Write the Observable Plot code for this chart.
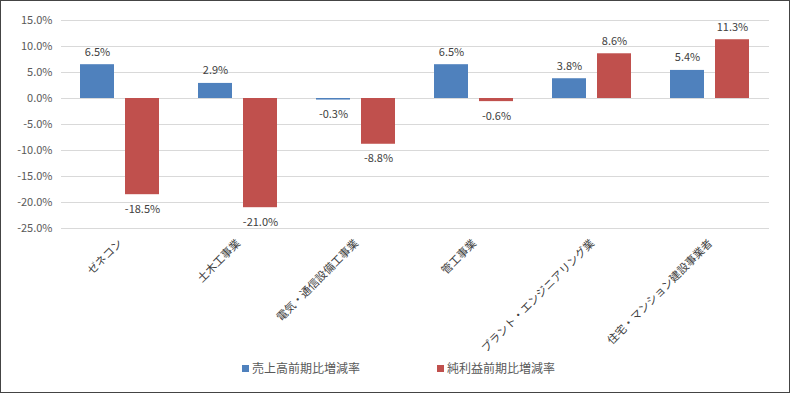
<!DOCTYPE html>
<html>
<head>
<meta charset="utf-8">
<script src="https://cdn.jsdelivr.net/npm/d3@7"></script>
<script src="https://cdn.jsdelivr.net/npm/@observablehq/plot@0.6"></script>
<style>
  html, body { margin: 0; padding: 0; background: #fff; }
  #wrap { position: relative; width: 790px; height: 393px; overflow: hidden; font-family: "Noto Sans CJK JP", "Noto Sans", sans-serif; }
  #chart { position: absolute; left: 0; top: 0; }
  #border { position: absolute; left: 0; top: 0; width: 790px; height: 393px; box-sizing: border-box; border: 1px solid #444; pointer-events: none; }
  #legend { position: absolute; top: 358px; left: 0; width: 790px; height: 20px; font-size: 12px; color: #595959; }
  .item { position: absolute; top: 0; display: flex; align-items: center; line-height: 20px; }
  .sw { width: 7px; height: 7px; margin-right: 3px; }
</style>
</head>
<body>
<div id="wrap">
  <div id="chart"></div>
  <div id="legend"></div>
  <div id="border"></div>
</div>
<script>
const categories = ["ゼネコン", "土木工事業", "電気・通信設備工事業", "管工事業", "プラント・エンジニアリング業", "住宅・マンション建設事業者"];
const seriesNames = ["売上高前期比増減率", "純利益前期比増減率"];
const salesGrowth = [6.5, 2.9, -0.3, 6.5, 3.8, 5.4];
const profitGrowth = [-18.5, -21.0, -8.8, -0.6, 8.6, 11.3];
const yTicks = [15, 10, 5, 0, -5, -10, -15, -20, -25];
const colors = ["#4F81BD", "#C0504D"];

const data = [];
categories.forEach((c, i) => {
  data.push({cat: c, series: seriesNames[0], value: salesGrowth[i]});
  data.push({cat: c, series: seriesNames[1], value: profitGrowth[i]});
});
const fmt = d => d.toFixed(1) + "%";

const chart = Plot.plot({
  width: 790,
  height: 393,
  marginLeft: 60,
  marginRight: 20,
  marginTop: 20,
  marginBottom: 165,
  style: {fontFamily: '"Noto Sans CJK JP", "Noto Sans", sans-serif', background: "transparent", overflow: "visible"},
  fx: {domain: categories, padding: 0},
  x: {domain: seriesNames, paddingInner: 0.24, paddingOuter: 0.406, axis: null},
  y: {domain: [-25, 15], axis: null},
  color: {domain: seriesNames, range: colors},
  marks: [
    Plot.gridY(yTicks, {stroke: "#d9d9d9", strokeOpacity: 1, strokeWidth: 1}),
    Plot.axisY(yTicks, {tickSize: 0, tickPadding: 9, tickFormat: fmt, fill: "#595959", fontSize: 11, label: null}),
    Plot.barY(data, {fx: "cat", x: "series", y: "value", fill: "series"}),
    Plot.text(data.filter(d => d.value >= 0), {fx: "cat", x: "series", y: "value", text: d => fmt(d.value), dy: -12.5, fill: "#404040", fontSize: 11}),
    Plot.text(data.filter(d => d.value < 0), {fx: "cat", x: "series", y: "value", text: d => fmt(d.value), dy: 14.5, fill: "#404040", fontSize: 11}),
    Plot.axisFx({anchor: "bottom", tickRotate: -45, tickSize: 0, tickPadding: 13, fill: "#404040", fontSize: 11, label: null})
  ]
});
document.getElementById("chart").appendChild(chart);

const legend = document.getElementById("legend");
const legendX = [242, 437];
seriesNames.forEach((s, i) => {
  const item = document.createElement("div");
  item.className = "item";
  item.style.left = legendX[i] + "px";
  const sw = document.createElement("span");
  sw.className = "sw";
  sw.style.background = colors[i];
  const t = document.createElement("span");
  t.textContent = s;
  item.appendChild(sw);
  item.appendChild(t);
  legend.appendChild(item);
});
</script>
</body>
</html>
